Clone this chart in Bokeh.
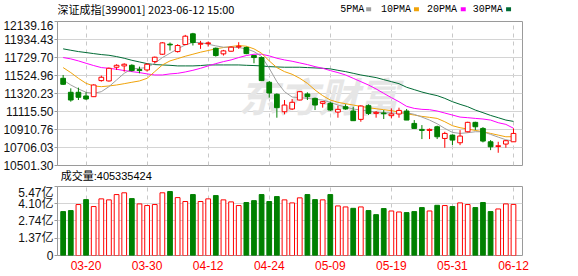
from bokeh.plotting import figure
from bokeh.models import Range1d, FixedTicker, Label, ColumnDataSource
from bokeh.core.properties import value
from bokeh.layouts import column
from bokeh.embed import file_html
from bokeh.resources import INLINE

dates = ["03-15", "03-16", "03-17", "03-20", "03-21", "03-22", "03-23", "03-24", "03-27", "03-28",
         "03-29", "03-30", "03-31", "04-03", "04-04", "04-06", "04-07", "04-10", "04-11", "04-12",
         "04-13", "04-14", "04-17", "04-18", "04-19", "04-20", "04-21", "04-24", "04-25", "04-26",
         "04-27", "04-28", "05-04", "05-05", "05-08", "05-09", "05-10", "05-11", "05-12", "05-15",
         "05-16", "05-17", "05-18", "05-19", "05-22", "05-23", "05-24", "05-25", "05-26", "05-29",
         "05-30", "05-31", "06-01", "06-02", "06-05", "06-06", "06-07", "06-08", "06-09", "06-12"]

opens = [11493, 11334, 11334, 11292, 11284, 11467, 11463, 11619, 11634, 11641,
         11592, 11588, 11683, 11767, 11881, 11797, 11877, 11999, 11881, 11888,
         11835, 11771, 11801, 11850, 11843, 11752, 11729, 11448, 11311, 11113,
         11144, 11246, 11315, 11265, 11208, 11208, 11109, 11170, 11121, 11026,
         11182, 11094, 11098, 11068, 11087, 11121, 10980, 10912, 10900, 10942,
         10809, 10847, 10760, 10885, 10992, 10923, 10771, 10718, 10745, 10771]
highs = [11531, 11379, 11387, 11334, 11425, 11524, 11615, 11653, 11664, 11653,
         11626, 11664, 11740, 11904, 11900, 11881, 11987, 12010, 11919, 11911,
         11843, 11816, 11854, 11904, 11854, 11759, 11740, 11463, 11322, 11246,
         11258, 11349, 11334, 11273, 11235, 11227, 11182, 11197, 11170, 11185,
         11197, 11121, 11132, 11151, 11159, 11144, 11018, 10961, 10923, 10954,
         10885, 10855, 10904, 10999, 10999, 10938, 10790, 10771, 10790, 10923]
lows = [11417, 11227, 11246, 11246, 11280, 11455, 11455, 11588, 11569, 11569,
        11550, 11569, 11664, 11759, 11809, 11786, 11873, 11866, 11828, 11854,
        11740, 11752, 11797, 11828, 11767, 11664, 11463, 11273, 11045, 11083,
        11132, 11242, 11246, 11132, 11159, 11121, 11045, 11136, 11011, 10999,
        11075, 11045, 11030, 11037, 11045, 11018, 10923, 10802, 10802, 10802,
        10703, 10733, 10733, 10878, 10904, 10764, 10676, 10646, 10703, 10771]
closes = [11425, 11246, 11277, 11258, 11417, 11505, 11607, 11641, 11653, 11581,
          11581, 11653, 11733, 11896, 11873, 11866, 11972, 11900, 11888, 11896,
          11752, 11805, 11847, 11858, 11774, 11729, 11467, 11326, 11159, 11189,
          11220, 11341, 11284, 11189, 11227, 11132, 11140, 11144, 11011, 11178,
          11094, 11106, 11090, 11087, 11128, 11018, 10923, 10900, 10912, 10828,
          10866, 10790, 10836, 10992, 10942, 10779, 10714, 10726, 10783, 10866]

ma5 = [11474, 11417, 11372, 11334, 11322, 11341, 11398, 11474, 11550, 11600,
       11607, 11615, 11664, 11729, 11778, 11828, 11873, 11900, 11900, 11881,
       11862, 11847, 11847, 11843, 11828, 11797, 11740, 11607, 11455, 11341,
       11280, 11273, 11265, 11254, 11246, 11220, 11189, 11166, 11144, 11132,
       11121, 11109, 11102, 11098, 11094, 11102, 11083, 11052, 11018, 10976,
       10923, 10878, 10866, 10874, 10885, 10885, 10855, 10824, 10794, 10779]
ma10 = [11615, 11558, 11493, 11436, 11406, 11398, 11406, 11417, 11432, 11448,
        11463, 11493, 11569, 11645, 11691, 11717, 11744, 11767, 11790, 11809,
        11828, 11843, 11854, 11866, 11858, 11828, 11778, 11691, 11615, 11569,
        11539, 11493, 11436, 11360, 11296, 11246, 11220, 11204, 11189, 11174,
        11159, 11147, 11136, 11125, 11109, 11090, 11075, 11060, 11049, 11037,
        10999, 10954, 10931, 10916, 10900, 10885, 10866, 10847, 10828, 10829]
ma20 = [11729, 11714, 11691, 11664, 11638, 11615, 11607, 11596, 11581, 11569,
        11558, 11543, 11531, 11531, 11543, 11550, 11565, 11584, 11607, 11634,
        11660, 11683, 11702, 11729, 11752, 11767, 11767, 11748, 11721, 11702,
        11687, 11668, 11649, 11626, 11607, 11581, 11558, 11531, 11493, 11455,
        11417, 11372, 11322, 11273, 11227, 11174, 11151, 11140, 11136, 11121,
        11098, 11075, 11052, 11045, 11037, 11030, 11018, 10988, 10969, 10925]
ma30 = [11828, 11812, 11797, 11786, 11774, 11763, 11755, 11740, 11721, 11698,
        11679, 11660, 11649, 11645, 11641, 11634, 11634, 11634, 11638, 11645,
        11645, 11645, 11645, 11645, 11641, 11638, 11634, 11626, 11622, 11619,
        11619, 11619, 11615, 11611, 11607, 11600, 11584, 11569, 11550, 11531,
        11516, 11501, 11478, 11455, 11432, 11391, 11364, 11337, 11315, 11296,
        11265, 11227, 11197, 11170, 11132, 11102, 11071, 11045, 11018, 11003]

# volume in 亿 (1e8)
vol = [3.48, 3.56, 4.04, 4.43, 3.88, 4.49, 4.41, 4.83, 4.97, 4.51,
       4.09, 3.96, 4.04, 4.97, 5.07, 4.59, 4.28, 4.83, 4.28, 4.49,
       4.75, 4.41, 4.25, 3.96, 4.20, 4.35, 4.83, 4.28, 4.67, 4.41,
       4.17, 4.57, 4.83, 4.43, 4.41, 4.83, 3.93, 3.85, 3.74, 3.85,
       3.56, 3.24, 3.72, 3.53, 3.45, 3.40, 3.48, 3.80, 3.53, 3.98,
       3.96, 3.88, 4.17, 4.04, 3.80, 4.20, 3.48, 3.69, 4.09, 4.05]
vol_up = [0, 0, 1, 0, 1, 1, 1, 1, 1, 0, 1, 1, 1, 1, 0, 1, 1, 0, 1, 1,
          0, 1, 1, 1, 0, 0, 0, 0, 0, 1, 1, 1, 0, 0, 1, 0, 1, 1, 0, 1,
          0, 0, 0, 1, 1, 0, 0, 0, 1, 0, 1, 0, 1, 1, 0, 0, 0, 1, 1, 1]

price_ticks = [10501.30, 10706.03, 10910.76, 11115.50, 11320.23, 11524.96, 11729.70, 11934.43, 12139.16]
price_tick_labels = ["10501.30", "10706.03", "10910.76", "11115.50", "11320.23",
                     "11524.96", "11729.70", "11934.43", "12139.16"]
vol_ticks = [0, 1.37, 2.74, 4.10, 5.47]
vol_tick_labels = ["0", "1.37亿", "2.74亿", "4.10亿", "5.47亿"]
date_tick_idx = [3, 11, 19, 27, 35, 43, 51, 59]

title_text = "深证成指[399001]  2023-06-12  15:00"
vol_title_text = "成交量:405335424"
ma_names = ["5PMA", "10PMA", "20PMA", "30PMA"]
ma_colors = ["#a0a0a0", "#f0a30a", "#ff00ff", "#006b35"]

RED = "#ff0000"
GREEN = "#008000"
GRID = "#d4d4d4"
VGRID = "#c8c8c8"
FRAME = "#9a9a9a"
W = 578

X0, X1 = -0.74, 60.18          # x extent in candle-slot units
CAPTION_X = 5.65                # slot position of the volume caption centre

xs = list(range(len(dates)))
up_idx = [i for i in xs if closes[i] >= opens[i]]
dn_idx = [i for i in xs if closes[i] < opens[i]]


def sub(idx):
    return dict(x=idx,
                o=[opens[i] for i in idx], h=[highs[i] for i in idx],
                l=[lows[i] for i in idx], c=[closes[i] for i in idx])


src_up = ColumnDataSource(sub(up_idx))
src_dn = ColumnDataSource(sub(dn_idx))

# ---------------- header strip (title + MA legend); x in canvas pixels ----------------
h1 = figure(width=W, height=20, x_range=Range1d(55, 522), y_range=Range1d(20, 0),
            output_backend="svg", toolbar_location=None,
            x_axis_location=None, y_axis_location=None,
            min_border_left=55, min_border_right=56, min_border_top=0, min_border_bottom=0)
h1.outline_line_color = None
h1.grid.visible = False
h1.text(x=[55], y=[8], text=[title_text], text_font=value("Noto Sans CJK SC"),
        text_font_size=value("11px"), text_baseline="middle", text_color="#000000")
leg_x = [339, 380, 426, 472]
sq_x = [367.5, 415.5, 462.5, 508]
h1.text(x=leg_x, y=[8.5] * 4, text=ma_names, text_font=value("Liberation Mono"),
        text_font_size=value("10px"), text_baseline="middle", text_color="#000000")
h1.rect(x=sq_x, y=[8.7] * 4, width=5, height=4, fill_color=ma_colors, line_color=None)

x_range = Range1d(X0, X1)

# ---------------- price panel ----------------
p1 = figure(width=W, height=165, x_range=x_range, y_range=Range1d(10501.30, 12139.16),
            output_backend="svg", toolbar_location=None,
            min_border_left=55, min_border_right=56, min_border_top=1, min_border_bottom=20)
p1.outline_line_color = FRAME

p1.yaxis.ticker = FixedTicker(ticks=price_ticks)
p1.yaxis.major_label_overrides = {t: s for t, s in zip(price_ticks, price_tick_labels)}
p1.yaxis.major_label_text_font = "Liberation Sans"
p1.yaxis.major_label_text_font_size = "12px"
p1.yaxis.major_label_text_color = "#111111"
p1.yaxis.major_label_standoff = 1
p1.yaxis.major_tick_out = 3
p1.yaxis.major_tick_in = 0
p1.yaxis.minor_tick_line_color = None
p1.yaxis.axis_line_color = FRAME
p1.yaxis.major_tick_line_color = FRAME

# the bottom axis of the price panel only carries the volume caption
p1.xaxis.ticker = FixedTicker(ticks=[CAPTION_X])
p1.xaxis.major_label_overrides = {CAPTION_X: vol_title_text}
p1.xaxis.major_label_text_font = "Liberation Sans, Noto Sans CJK SC"
p1.xaxis.major_label_text_font_size = "11px"
p1.xaxis.major_label_text_color = "#000000"
p1.xaxis.major_label_standoff = 4
p1.xaxis.major_tick_out = 0
p1.xaxis.major_tick_in = 0
p1.xaxis.minor_tick_line_color = None
p1.xaxis.axis_line_color = None

p1.ygrid.ticker = FixedTicker(ticks=price_ticks)
p1.ygrid.grid_line_color = GRID
p1.xgrid.ticker = FixedTicker(ticks=date_tick_idx)
p1.xgrid.grid_line_color = VGRID
p1.xgrid.grid_line_dash = "4 4"

wm = Label(x=33.5, y=11300, text="东方财富", text_align="center", text_baseline="middle",
           text_font="Noto Sans CJK SC", text_font_size="40px", text_font_style="bold italic",
           text_color="#e6e6e6", level="underlay")
p1.add_layout(wm)

for arr, col in zip([ma30, ma20, ma10, ma5], [ma_colors[3], ma_colors[2], ma_colors[1], ma_colors[0]]):
    p1.line(xs, arr, line_color=col, line_width=1)

p1.segment(x0="x", y0="h", x1="x", y1="l", source=src_dn, line_color=GREEN, line_width=1)
p1.vbar(x="x", top="o", bottom="c", width=0.62, source=src_dn,
        fill_color=GREEN, line_color=GREEN, line_width=1)
p1.segment(x0="x", y0="h", x1="x", y1="l", source=src_up, line_color=RED, line_width=1)
p1.vbar(x="x", top="c", bottom="o", width=0.62, source=src_up,
        fill_color="white", line_color=RED, line_width=1)

# ---------------- volume panel ----------------
p2 = figure(width=W, height=91, x_range=x_range, y_range=Range1d(0, 5.47),
            output_backend="svg", toolbar_location=None,
            min_border_left=55, min_border_right=56, min_border_top=1, min_border_bottom=21)
p2.outline_line_color = FRAME
p2.yaxis.ticker = FixedTicker(ticks=vol_ticks)
p2.yaxis.major_label_overrides = {t: s for t, s in zip(vol_ticks, vol_tick_labels)}
p2.yaxis.major_label_text_font = "Liberation Sans, Noto Sans CJK SC"
p2.yaxis.major_label_text_font_size = "12px"
p2.yaxis.major_label_text_color = "#111111"
p2.yaxis.major_label_standoff = 1
p2.yaxis.major_tick_out = 3
p2.yaxis.major_tick_in = 0
p2.yaxis.minor_tick_line_color = None
p2.yaxis.axis_line_color = FRAME
p2.yaxis.major_tick_line_color = FRAME

p2.xaxis.ticker = FixedTicker(ticks=date_tick_idx)
p2.xaxis.major_label_overrides = {i: dates[i] for i in date_tick_idx}
p2.xaxis.major_label_text_font = "Liberation Sans"
p2.xaxis.major_label_text_font_size = "12px"
p2.xaxis.major_label_text_color = RED
p2.xaxis.major_label_standoff = 5
p2.xaxis.major_tick_out = 0
p2.xaxis.major_tick_in = 0
p2.xaxis.minor_tick_line_color = None
p2.xaxis.axis_line_color = None

p2.ygrid.ticker = FixedTicker(ticks=vol_ticks)
p2.ygrid.grid_line_color = GRID
p2.xgrid.ticker = FixedTicker(ticks=date_tick_idx)
p2.xgrid.grid_line_color = VGRID
p2.xgrid.grid_line_dash = "4 4"

vu = [i for i in xs if vol_up[i] == 1]
vd = [i for i in xs if vol_up[i] == 0]
p2.vbar(x=vd, top=[vol[i] for i in vd], bottom=0, width=0.62,
        fill_color=GREEN, line_color=GREEN, line_width=1)
p2.vbar(x=vu, top=[vol[i] for i in vu], bottom=0, width=0.62,
        fill_color="white", line_color=RED, line_width=1)

layout = column(h1, p1, p2, spacing=0)
open("out.html", "w").write(file_html(layout, INLINE))
